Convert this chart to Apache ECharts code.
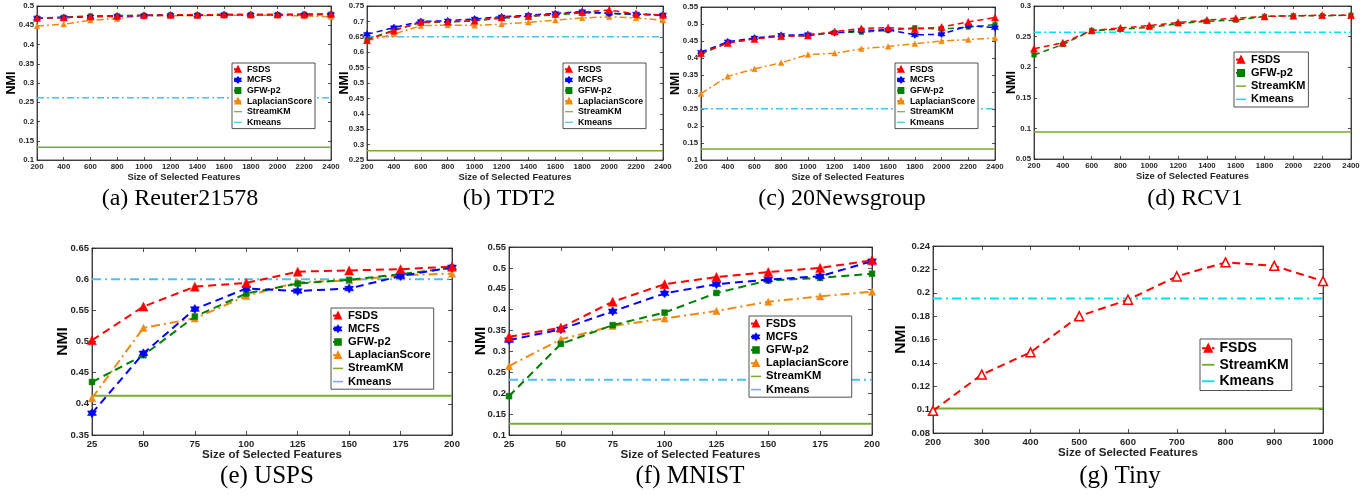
<!DOCTYPE html>
<html>
<head>
<meta charset="utf-8">
<script src="https://cdn.jsdelivr.net/npm/echarts@6/dist/echarts.min.js"></script>
<style>
  html, body { margin: 0; padding: 0; background: #fff; }
  #chart { width: 1370px; height: 497px; }
</style>
</head>
<body>
<div id="chart"></div>
<script>
// x values (size of selected features)
const featLarge = [200, 400, 600, 800, 1000, 1200, 1400, 1600, 1800, 2000, 2200, 2400];
const featSmall = [25, 50, 75, 100, 125, 150, 175, 200];
const featTiny = [200, 300, 400, 500, 600, 700, 800, 900, 1000];

// (a) Reuter21578
const reuterFSDS = [0.469, 0.470, 0.473, 0.474, 0.476, 0.477, 0.477, 0.478, 0.478, 0.478, 0.478, 0.479];
const reuterMCFS = [0.468, 0.470, 0.472, 0.473, 0.475, 0.476, 0.476, 0.477, 0.477, 0.477, 0.477, 0.478];
const reuterGFW = [0.469, 0.471, 0.474, 0.475, 0.476, 0.477, 0.477, 0.478, 0.478, 0.478, 0.479, 0.479];
const reuterLS = [0.448, 0.453, 0.463, 0.467, 0.475, 0.475, 0.475, 0.476, 0.476, 0.476, 0.474, 0.472];
const reuterStreamKM = 0.133;
const reuterKmeans = 0.262;

// (b) TDT2
const tdtFSDS = [0.639, 0.670, 0.698, 0.699, 0.702, 0.713, 0.717, 0.724, 0.730, 0.737, 0.724, 0.721];
const tdtMCFS = [0.658, 0.680, 0.700, 0.702, 0.708, 0.715, 0.720, 0.726, 0.732, 0.726, 0.724, 0.721];
const tdtGFW = [0.641, 0.672, 0.696, 0.698, 0.702, 0.710, 0.717, 0.721, 0.728, 0.726, 0.722, 0.720];
const tdtLS = [0.637, 0.659, 0.686, 0.688, 0.687, 0.691, 0.697, 0.704, 0.711, 0.715, 0.711, 0.704];
const tdtStreamKM = 0.280;
const tdtKmeans = 0.650;

// (c) 20Newsgroup
const newsFSDS = [0.414, 0.444, 0.456, 0.464, 0.466, 0.478, 0.487, 0.489, 0.485, 0.491, 0.506, 0.519];
const newsMCFS = [0.417, 0.448, 0.459, 0.467, 0.469, 0.474, 0.481, 0.483, 0.468, 0.470, 0.495, 0.489];
const newsGFW = [0.412, 0.444, 0.457, 0.465, 0.465, 0.475, 0.476, 0.481, 0.489, 0.485, 0.491, 0.498];
const newsLS = [0.295, 0.346, 0.368, 0.386, 0.410, 0.414, 0.427, 0.434, 0.442, 0.450, 0.454, 0.459];
const newsStreamKM = 0.132;
const newsKmeans = 0.251;

// (d) RCV1
const rcvFSDS = [0.230, 0.240, 0.260, 0.264, 0.268, 0.273, 0.277, 0.280, 0.283, 0.284, 0.285, 0.285];
const rcvGFW = [0.220, 0.237, 0.260, 0.262, 0.265, 0.271, 0.275, 0.277, 0.283, 0.284, 0.284, 0.285];
const rcvStreamKM = 0.094;
const rcvKmeans = 0.257;

// (e) USPS
const uspsFSDS = [0.502, 0.556, 0.588, 0.594, 0.612, 0.614, 0.616, 0.620];
const uspsMCFS = [0.385, 0.481, 0.552, 0.585, 0.581, 0.585, 0.605, 0.619];
const uspsGFW = [0.435, 0.478, 0.540, 0.577, 0.593, 0.599, 0.608, 0.618];
const uspsLS = [0.409, 0.522, 0.537, 0.573, 0.595, 0.598, 0.606, 0.609];
const uspsStreamKM = 0.413;
const uspsKmeans = 0.600;

// (f) MNIST
const mnistFSDS = [0.335, 0.357, 0.419, 0.461, 0.478, 0.490, 0.500, 0.518];
const mnistMCFS = [0.327, 0.353, 0.396, 0.439, 0.461, 0.472, 0.480, 0.516];
const mnistGFW = [0.193, 0.318, 0.363, 0.393, 0.440, 0.470, 0.476, 0.486];
const mnistLS = [0.265, 0.329, 0.361, 0.379, 0.397, 0.419, 0.432, 0.443];
const mnistStreamKM = 0.127;
const mnistKmeans = 0.232;

// (g) Tiny
const tinyFSDS = [0.099, 0.130, 0.149, 0.180, 0.194, 0.214, 0.226, 0.223, 0.210];
const tinyStreamKM = 0.101;
const tinyKmeans = 0.195;

const sans = 'Liberation Sans, Arial, sans-serif';
const axisColor = '#262626';
const cyan = '#00e1f5';
const hexagram = 'path://M10 0L13 4.8L18.66 5L16 10L18.66 15L13 15.2L10 20L7 15.2L1.34 15L4 10L1.34 5L7 4.8Z';
const barIcon = 'path://M0 0L20 0L20 3L0 3Z';

const methodStyle = {
    'FSDS': { color: '#ff0000', dash: 'dash', symbol: 'triangle', size: 1.0 },
    'MCFS': { color: '#0000ff', dash: 'dash', symbol: hexagram, size: 1.0 },
    'GFW-p2': { color: '#008000', dash: 'dash', symbol: 'rect', size: 0.65 },
    'LaplacianScore': { color: '#ee8a12', dash: 'dashdot', symbol: 'triangle', size: 0.8 },
    'StreamKM': { color: '#77ac30', dash: 'solid', symbol: 'none' },
    'Kmeans': { color: '#4dbeee', dash: 'dashdot', symbol: 'none' },
};

const panels = [
    {
        rect: [37, 6, 294, 154], xs: featLarge, x: [200, 2400, 200], y: [0.1, 0.5, 0.05], big: false,
        caption: '(a) Reuter21578', cap: [180, 199], legendPos: [232, 63], yGap: 19,
        lines: [['FSDS', reuterFSDS], ['MCFS', reuterMCFS], ['GFW-p2', reuterGFW], ['LaplacianScore', reuterLS]],
        streamKM: reuterStreamKM, kmeans: reuterKmeans,
    },
    {
        rect: [367, 6, 296, 154], xs: featLarge, x: [200, 2400, 200], y: [0.25, 0.75, 0.05], big: false,
        caption: '(b) TDT2', cap: [509, 199], legendPos: [563, 63], yGap: 16,
        lines: [['FSDS', tdtFSDS], ['MCFS', tdtMCFS], ['GFW-p2', tdtGFW], ['LaplacianScore', tdtLS]],
        streamKM: tdtStreamKM, kmeans: tdtKmeans,
    },
    {
        rect: [701, 7, 294, 153], xs: featLarge, x: [200, 2400, 200], y: [0.1, 0.55, 0.05], big: false,
        caption: '(c) 20Newsgroup', cap: [842, 199], legendPos: [895, 63], yGap: 19,
        lines: [['FSDS', newsFSDS], ['MCFS', newsMCFS], ['GFW-p2', newsGFW], ['LaplacianScore', newsLS]],
        streamKM: newsStreamKM, kmeans: newsKmeans,
    },
    {
        rect: [1034, 6, 317, 153], xs: featLarge, x: [200, 2400, 200], y: [0.05, 0.3, 0.05], big: false,
        caption: '(d) RCV1', cap: [1195, 199], legendPos: [1234, 52], yGap: 16, legendScale: 1.25,
        lines: [['FSDS', rcvFSDS], ['GFW-p2', rcvGFW]],
        streamKM: rcvStreamKM, kmeans: rcvKmeans, kmColor: cyan,
    },
    {
        rect: [92, 248, 360, 187], xs: featSmall, x: [25, 200, 25], y: [0.35, 0.65, 0.05], big: true,
        caption: '(e) USPS', cap: [267, 476], legendPos: [331, 308], yGap: 21,
        lines: [['FSDS', uspsFSDS], ['MCFS', uspsMCFS], ['GFW-p2', uspsGFW], ['LaplacianScore', uspsLS]],
        streamKM: uspsStreamKM, kmeans: uspsKmeans,
    },
    {
        rect: [509, 247, 363, 188], xs: featSmall, x: [25, 200, 25], y: [0.1, 0.55, 0.05], big: true,
        caption: '(f) MNIST', cap: [690, 476], legendPos: [749, 316], yGap: 20,
        lines: [['FSDS', mnistFSDS], ['MCFS', mnistMCFS], ['GFW-p2', mnistGFW], ['LaplacianScore', mnistLS]],
        streamKM: mnistStreamKM, kmeans: mnistKmeans,
    },
    {
        rect: [933, 246, 390, 187], xs: featTiny, x: [200, 1000, 100], y: [0.08, 0.24, 0.02], big: true,
        caption: '(g) Tiny', cap: [1120, 476], legendPos: [1200, 339], yGap: 24, legendScale: 1.25,
        lines: [['FSDS', tinyFSDS]],
        streamKM: tinyStreamKM, kmeans: tinyKmeans, kmColor: cyan, hollow: true,
    },
];

function dashFor(kind, big) {
    if (kind === 'dash') return big ? [8, 5] : [6, 4];
    if (kind === 'dashdot') return big ? [9, 4, 2, 4] : [7, 3, 2, 3];
    return 'solid';
}

const grids = [], xAxes = [], yAxes = [], series = [], legends = [], graphics = [];

panels.forEach((p, gi) => {
    const [left, top, width, height] = p.rect;
    const tickFont = p.big ? 9.5 : 7.8;
    const nameFont = p.big ? 11.6 : 9.4;
    const nmiFont = p.big ? 15.5 : 12.5;
    const lw = p.big ? 2 : 1.5;
    const mk = p.big ? 9 : 7;

    grids.push({ left, top, width, height, show: true, borderColor: axisColor, borderWidth: 0.8, backgroundColor: '#fff' });

    const tick = { show: true, inside: true, length: p.big ? 4 : 3, lineStyle: { color: axisColor, width: 0.8 } };
    const line = { show: true, onZero: false, lineStyle: { color: axisColor, width: 0.8 } };

    // main axes
    xAxes.push({
        gridIndex: gi, type: 'value', min: p.x[0], max: p.x[1], interval: p.x[2],
        axisLine: line, axisTick: tick, splitLine: { show: false },
        axisLabel: {
            margin: p.big ? 4 : 3, fontSize: tickFont, fontWeight: 'bold', color: axisColor, fontFamily: sans,
            formatter: v => String(v),
        },
        name: 'Size of Selected Features', nameLocation: 'middle', nameGap: p.big ? 14 : 13,
        nameMoveOverlap: false,
        nameTextStyle: { fontSize: nameFont, fontWeight: 'bold', color: axisColor, fontFamily: sans },
    });
    yAxes.push({
        gridIndex: gi, type: 'value', min: p.y[0], max: p.y[1], interval: p.y[2],
        axisLine: line, axisTick: tick, splitLine: { show: false },
        axisLabel: { margin: 3, fontSize: tickFont, fontWeight: 'bold', color: axisColor, fontFamily: sans },
        name: 'NMI', nameLocation: 'middle', nameGap: p.yGap, nameMoveOverlap: false,
        nameTextStyle: { fontSize: nmiFont, fontWeight: 'bold', color: '#000', fontFamily: sans },
    });
    // mirror axes for the boxed frame ticks
    xAxes.push({
        gridIndex: gi, type: 'value', position: 'top', min: p.x[0], max: p.x[1], interval: p.x[2],
        axisLine: line, axisTick: tick, axisLabel: { show: false }, splitLine: { show: false },
    });
    yAxes.push({
        gridIndex: gi, type: 'value', position: 'right', min: p.y[0], max: p.y[1], interval: p.y[2],
        axisLine: line, axisTick: tick, axisLabel: { show: false }, splitLine: { show: false },
    });
    const xi = gi * 2, yi = gi * 2;

    const first = p.xs[0], last = p.xs[p.xs.length - 1];
    const kmColor = p.kmColor || methodStyle.Kmeans.color;
    series.push({
        name: 'StreamKM', type: 'line', xAxisIndex: xi, yAxisIndex: yi, symbol: 'none', silent: true,
        data: [[first, p.streamKM], [last, p.streamKM]],
        lineStyle: { color: methodStyle.StreamKM.color, width: lw, type: 'solid' },
        itemStyle: { color: methodStyle.StreamKM.color }, z: 2,
    });
    series.push({
        name: 'Kmeans', type: 'line', xAxisIndex: xi, yAxisIndex: yi, symbol: 'none', silent: true,
        data: [[first, p.kmeans], [last, p.kmeans]],
        lineStyle: { color: kmColor, width: lw, type: dashFor('dashdot', p.big) },
        itemStyle: { color: kmColor }, z: 2,
    });

    // method curves, drawn back to front so FSDS ends on top
    p.lines.slice().reverse().forEach(([name, ys]) => {
        const st = methodStyle[name];
        const hollow = p.hollow && name === 'FSDS';
        series.push({
            name, type: 'line', xAxisIndex: xi, yAxisIndex: yi,
            data: p.xs.map((x, i) => [x, ys[i]]),
            symbol: st.symbol, symbolSize: mk * st.size, showAllSymbol: true,
            lineStyle: { color: st.color, width: lw, type: dashFor(st.dash, p.big) },
            itemStyle: hollow
                ? { color: '#fff', borderColor: st.color, borderWidth: 1.5 }
                : { color: st.color, borderColor: st.color, borderWidth: 0.5 },
            z: 3,
        });
    });

    // legend
    const ls = p.legendScale || 1;
    const legFont = (p.big ? 11.2 : 8.8) * ls;
    const rowH = (p.big ? 13.2 : 10.6) * ls;
    const names = p.lines.map(l => l[0]).concat(['StreamKM', 'Kmeans']);
    legends.push({
        orient: 'vertical', left: p.legendPos[0], top: p.legendPos[1], align: 'left',
        selectedMode: false, backgroundColor: '#fff', borderColor: axisColor, borderWidth: 0.8,
        padding: [1, 3, 1, 1], itemGap: 0,
        itemWidth: (p.big ? 10 : 8) * ls, itemHeight: (p.big ? 7 : 6) * ls,
        textStyle: { fontSize: legFont, fontWeight: 'bold', color: '#000', fontFamily: sans, lineHeight: rowH },
        data: names.map(n => {
            if (n === 'Kmeans') return { name: n, icon: barIcon, itemStyle: { color: kmColor, borderWidth: 0 } };
            if (n === 'StreamKM') return { name: n, icon: barIcon, itemStyle: { color: methodStyle.StreamKM.color, borderWidth: 0 } };
            if (n === 'FSDS') return { name: n, itemStyle: { color: '#ff0000', borderColor: '#ff0000' } };
            return { name: n };
        }),
    });

    graphics.push({
        type: 'text', x: p.cap[0], y: p.cap[1],
        style: {
            text: p.caption, fill: '#000', align: 'center', verticalAlign: 'middle',
            font: (p.big ? '25px' : '24px') + ' "Liberation Serif", "DejaVu Serif", serif',
        },
    });
});

const chart = echarts.init(document.getElementById('chart'), null, { renderer: 'canvas' });
chart.setOption({
    backgroundColor: '#fff',
    animation: false,
    grid: grids,
    xAxis: xAxes,
    yAxis: yAxes,
    legend: legends,
    series,
    graphic: graphics,
});
</script>
</body>
</html>
